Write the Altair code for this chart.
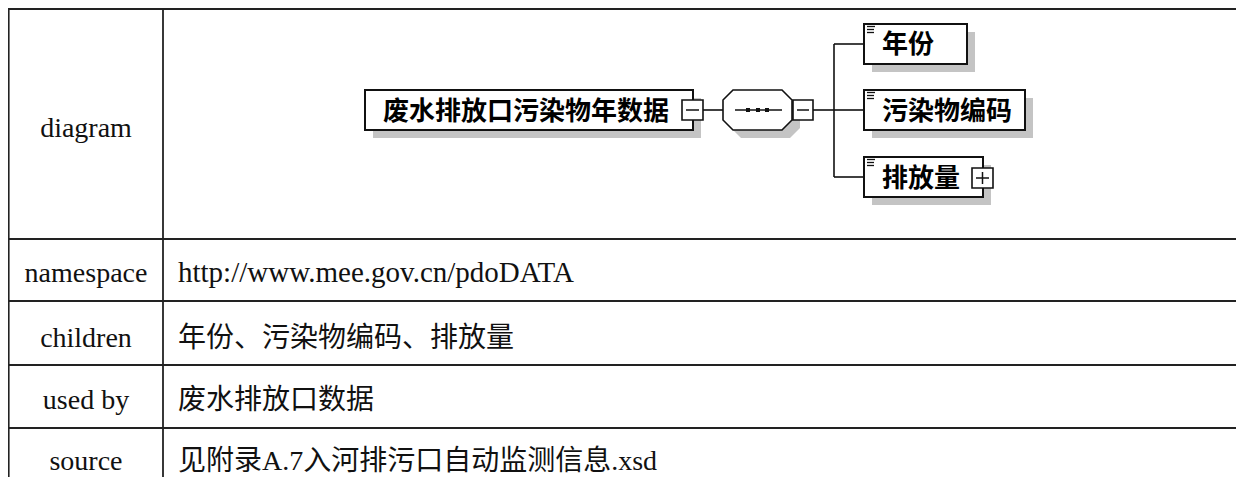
import altair as alt
import pandas as pd

# ---- content ----
row_labels = ["diagram", "namespace", "children", "used by", "source"]
row_values = ["", "http://www.mee.gov.cn/pdoDATA", "年份、污染物编码、排放量",
              "废水排放口数据", "见附录A.7入河排污口自动监测信息.xsd"]
root_name = "废水排放口污染物年数据"
child_names = ["年份", "污染物编码", "排放量"]

# ---- layout (image pixel coordinates) ----
row_lines_y = [9, 239, 301, 365, 428]
col_lines_x = [8.7, 163]
label_baselines = [137, 282, 347, 409, 470]
label_x = 86
value_x = 178

root_box = (365, 693, 90, 130)
child_boxes = [(864, 967, 24, 64), (864, 1025, 90, 130), (864, 983, 157, 197)]
child_text_base = [53, 119.5, 186.5]
minus_boxes = [(682, 703, 100, 120), (793, 813, 100, 120)]
plus_boxes = [(972, 993, 168, 188)]
connectors = [
    (703, 723, 110, 110), (813, 834, 110, 110), (834, 834, 44, 177),
    (834, 864, 44, 44), (834, 864, 110, 110), (834, 864, 177, 177),
    (735, 782, 110, 110),
]
seq_dots = [748, 758, 767]
octagon_center = (757.5, 110)
octagon_w = 69
SH = 8

W, H = 1228, 469
xs = alt.Scale(domain=[8, 8 + W], nice=False, zero=False)
ys = alt.Scale(domain=[8, 8 + H], nice=False, zero=False, reverse=True)


def X(f="x"):
    return alt.X(f"{f}:Q", scale=xs, axis=None)


def Y(f="y"):
    return alt.Y(f"{f}:Q", scale=ys, axis=None)


layers = []

# table grid
hl = pd.DataFrame({"x": [8] * len(row_lines_y), "x2": [1244] * len(row_lines_y), "y": row_lines_y})
layers.append(alt.Chart(hl).mark_rule(color="#222", strokeWidth=1.8).encode(
    x=X(), x2="x2:Q", y=Y()))
vl = pd.DataFrame({"x": col_lines_x, "y": [9, 9], "y2": [485, 485]})
layers.append(alt.Chart(vl).mark_rule(color="#222", strokeWidth=1.8).encode(
    x=X(), y=Y(), y2="y2:Q"))

# table text
lab = pd.DataFrame({"x": [label_x] * 5, "y": label_baselines, "t": row_labels})
layers.append(alt.Chart(lab).mark_text(
    font="Liberation Serif, Noto Sans CJK SC", fontSize=28, align="center",
    baseline="alphabetic", color="#111").encode(x=X(), y=Y(), text="t:N"))
val = pd.DataFrame({"x": [value_x] * 4, "y": label_baselines[1:], "t": row_values[1:],
                    "s": [29, 28, 28, 28]})
layers.append(alt.Chart(val).mark_text(
    font="Liberation Serif, Noto Sans CJK SC", align="left",
    baseline="alphabetic", color="#111").encode(
        x=X(), y=Y(), text="t:N",
        size=alt.Size("s:Q", scale=None, legend=None)))

# shadows
boxes = [root_box] + child_boxes
sh = pd.DataFrame({
    "x": [b[0] + SH for b in boxes], "x2": [b[1] + SH for b in boxes],
    "y": [b[2] + SH for b in boxes], "y2": [b[3] + SH for b in boxes]})
layers.append(alt.Chart(sh).mark_rect(color="#c4c4c4").encode(
    x=X(), x2="x2:Q", y=Y(), y2="y2:Q"))

hh = 20 / (octagon_w / 2)
c = 10 / (octagon_w / 2)
oct_path = (f"M -1 {-hh + c:.3f} L {-1 + c:.3f} {-hh:.3f} L {1 - c:.3f} {-hh:.3f} L 1 {-hh + c:.3f} "
            f"L 1 {hh - c:.3f} L {1 - c:.3f} {hh:.3f} L {-1 + c:.3f} {hh:.3f} L -1 {hh - c:.3f} Z")
osh = pd.DataFrame({"x": [octagon_center[0] + SH], "y": [octagon_center[1] + SH]})
layers.append(alt.Chart(osh).mark_point(
    shape=oct_path, size=octagon_w ** 2, filled=True, fill="#c4c4c4",
    strokeWidth=0, opacity=1).encode(x=X(), y=Y()))

# connectors
cn = pd.DataFrame({"x": [c_[0] for c_ in connectors], "x2": [c_[1] for c_ in connectors],
                   "y": [c_[2] for c_ in connectors], "y2": [c_[3] for c_ in connectors]})
layers.append(alt.Chart(cn).mark_rule(color="#111", strokeWidth=1.6).encode(
    x=X(), x2="x2:Q", y=Y(), y2="y2:Q"))

# octagon (sequence compositor)
oc = pd.DataFrame({"x": [octagon_center[0]], "y": [octagon_center[1]]})
layers.append(alt.Chart(oc).mark_point(
    shape=oct_path, size=octagon_w ** 2, filled=True, fill="white",
    stroke="#111", strokeWidth=1.6, opacity=1).encode(x=X(), y=Y()))
inner = pd.DataFrame({"x": [735], "x2": [782], "y": [110]})
layers.append(alt.Chart(inner).mark_rule(color="#111", strokeWidth=1.6).encode(
    x=X(), x2="x2:Q", y=Y()))
dots = pd.DataFrame({"x": [d - 2 for d in seq_dots], "x2": [d + 2 for d in seq_dots],
                     "y": [108] * 3, "y2": [112] * 3})
layers.append(alt.Chart(dots).mark_rect(color="#111").encode(
    x=X(), x2="x2:Q", y=Y(), y2="y2:Q"))

# element boxes
bx = pd.DataFrame({"x": [b[0] for b in boxes], "x2": [b[1] for b in boxes],
                   "y": [b[2] for b in boxes], "y2": [b[3] for b in boxes]})
layers.append(alt.Chart(bx).mark_rect(fill="white", stroke="#111", strokeWidth=2).encode(
    x=X(), x2="x2:Q", y=Y(), y2="y2:Q"))

# "≡" markers on child boxes
mk_x, mk_x2, mk_y = [], [], []
for b in child_boxes:
    for i, off in enumerate([2.5, 5.5, 8.5]):
        mk_x.append(b[0] + 3)
        mk_x2.append(b[0] + (11 if i == 0 else 10))
        mk_y.append(b[2] + off)
mk = pd.DataFrame({"x": mk_x, "x2": mk_x2, "y": mk_y})
layers.append(alt.Chart(mk).mark_rule(color="#111", strokeWidth=1.3).encode(
    x=X(), x2="x2:Q", y=Y()))

# +/- boxes
pm = minus_boxes + plus_boxes
pmd = pd.DataFrame({"x": [b[0] for b in pm], "x2": [b[1] for b in pm],
                    "y": [b[2] for b in pm], "y2": [b[3] for b in pm]})
layers.append(alt.Chart(pmd).mark_rect(fill="white", stroke="#111", strokeWidth=1.6).encode(
    x=X(), x2="x2:Q", y=Y(), y2="y2:Q"))
sg_x, sg_x2, sg_y, sg_y2 = [], [], [], []
for b in pm:
    yc = (b[2] + b[3]) / 2
    sg_x.append(b[0] + 4); sg_x2.append(b[1] - 4); sg_y.append(yc); sg_y2.append(yc)
for b in plus_boxes:
    xc = (b[0] + b[1]) / 2
    sg_x.append(xc); sg_x2.append(xc); sg_y.append(b[2] + 4); sg_y2.append(b[3] - 4)
sg = pd.DataFrame({"x": sg_x, "x2": sg_x2, "y": sg_y, "y2": sg_y2})
layers.append(alt.Chart(sg).mark_rule(color="#111", strokeWidth=1.5).encode(
    x=X(), x2="x2:Q", y=Y(), y2="y2:Q"))

# box texts
bt = pd.DataFrame({"x": [383] + [882] * 3, "y": [119.5] + child_text_base,
                   "t": [root_name] + child_names})
layers.append(alt.Chart(bt).mark_text(
    font="Noto Sans CJK SC", fontSize=26, fontWeight="bold", align="left",
    baseline="alphabetic", color="#000").encode(x=X(), y=Y(), text="t:N"))

chart = alt.layer(*layers).properties(
    width=W, height=H, padding=0, autosize=alt.AutoSizeParams(type="none"),
    background="white",
).configure_view(stroke="transparent", strokeWidth=0)

chart.save("out.html", embed_options={"renderer": "svg", "actions": False})
